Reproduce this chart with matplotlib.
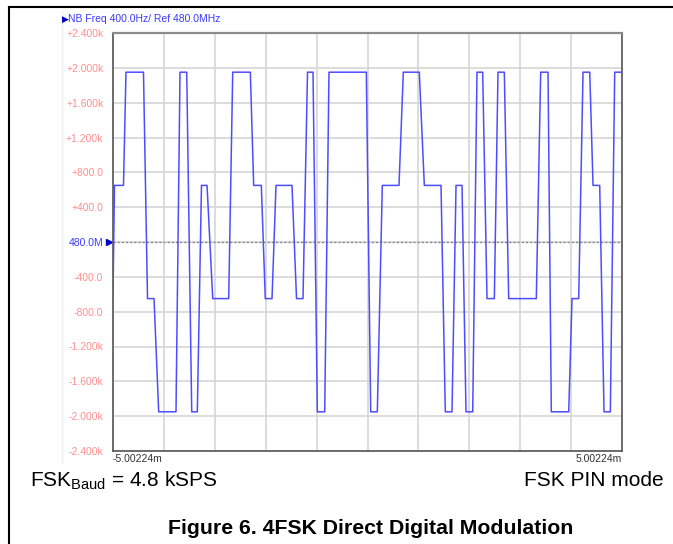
import matplotlib
matplotlib.use('Agg')
import matplotlib.pyplot as plt
import matplotlib.transforms as mtransforms
import numpy as np

plt.rcParams['font.family'] = ['Liberation Sans', 'DejaVu Sans']
plt.rcParams['mathtext.fontset'] = 'custom'
plt.rcParams['mathtext.rm'] = 'Liberation Sans'

# waveform breakpoints: time (ms), deviation (Hz)
T, H, L, B = 1950, 650, -650, -1950
t_ms = [-5.002, -4.973, -4.796, -4.747, -4.403, -4.324, -4.196, -4.104, -3.764, -3.685,
        -3.553, -3.455, -3.345, -3.263, -3.154, -3.042, -2.728, -2.649, -2.303, -2.237,
        -2.087, -2.009, -1.877, -1.798, -1.484, -1.395, -1.268, -1.179, -1.071, -0.986,
        -0.841, -0.757, -0.023, 0.063, 0.193, 0.291, 0.619, 0.704, 1.018, 1.117,
        1.445, 1.529, 1.661, 1.740, 1.858, 1.936, 2.068, 2.152, 2.264, 2.349,
        2.493, 2.565, 2.689, 2.775, 3.318, 3.404, 3.548, 3.613, 3.955, 4.020,
        4.151, 4.236, 4.368, 4.433, 4.564, 4.649, 4.773, 4.859, 5.002]
freq_hz = [-600, H, H, T, T, L, L, B, B, T,
           T, B, B, H, H, L, L, T, T, H,
           H, L, L, H, H, L, L, T, T, B,
           B, T, T, B, B, H, H, T, T, H,
           H, B, B, H, H, B, B, T, T, L,
           L, T, T, L, L, T, T, B, B, L,
           L, T, T, H, H, B, B, T, T]

span = 5.00224
y_ticks = np.arange(-2400, 2401, 400)
y_labels = ['-2.400k', '-2.000k', '-1.600k', '-1.200k', '-800.0', '-400.0', '480.0M',
            '+400.0', '+800.0', '+1.200k', '+1.600k', '+2.000k', '+2.400k']

fig = plt.figure(figsize=(6.73, 5.44), dpi=100)
ax = fig.add_axes([113/673, 1 - 451/544, 509/673, 418/544])

ax.plot(t_ms, freq_hz, color='#4d4dff', lw=1.1, zorder=3)
ax.axhline(0, color='#8a8a8a', lw=1.0, ls=(0, (1.5, 1.5)), zorder=2)

ax.set_xlim(-span, span)
ax.set_ylim(-2400, 2400)
ax.set_xticks(np.linspace(-span, span, 11))
ax.set_xticklabels([])
ax.set_yticks(y_ticks)
ax.set_yticklabels(y_labels, fontsize=7.5, color='#ff8f8f')
for lab in ax.get_yticklabels():
    if lab.get_text() == '480.0M':
        lab.set_color('#3a3aff')
ax.tick_params(length=0, pad=7)
ax.grid(True, color='#d6d6d6', lw=1.2)
for side in ['left', 'right', 'bottom']:
    ax.spines[side].set_color('#555555')
    ax.spines[side].set_linewidth(1.2)
ax.spines['top'].set_color('#8c8c8c')
ax.spines['top'].set_linewidth(1.6)

# ref marker on the y axis
trans = mtransforms.blended_transform_factory(ax.transAxes, ax.transData)
ax.plot([-0.007], [0], marker='>', ms=5, color='#0000d0', transform=trans, clip_on=False)

ax.text(0, -0.006, '-5.00224m', transform=ax.transAxes, ha='left', va='top',
        fontsize=7.5, color='#333333')
ax.text(1, -0.006, '5.00224m', transform=ax.transAxes, ha='right', va='top',
        fontsize=7.5, color='#333333')

fig.text(62/673, 1 - 19/544, '▶', family='DejaVu Sans', fontsize=6.5, color='#0000c0',
         ha='left', va='center')
fig.text(68/673, 1 - 19/544, 'NB Freq 400.0Hz/ Ref 480.0MHz', fontsize=7.5,
         color='#3a3aff', ha='left', va='center')

fig.text(30/673, 1 - 481/544, 'FSK$_{\\mathrm{Baud}}$ = 4.8 kSPS', fontsize=15,
         ha='left', va='center')
fig.text(664/673, 1 - 481/544, 'FSK PIN mode', fontsize=15,
         ha='right', va='center')
fig.text(371/673, 1 - 529/544, 'Figure 6. 4FSK Direct Digital Modulation', fontsize=15.3,
         fontweight='bold', ha='center', va='center')

# page frame
fig.add_artist(plt.Line2D([8.5/673, 8.5/673], [0, 1 - 7/544], color='black', lw=1.5))
fig.add_artist(plt.Line2D([8.5/673, 1], [1 - 7/544, 1 - 7/544], color='black', lw=1.5))
fig.add_artist(plt.Line2D([62/673, 62/673], [1 - 462/544, 1 - 12/544], color='#eeeeee', lw=1))

fig.savefig('out.png', dpi=100)
